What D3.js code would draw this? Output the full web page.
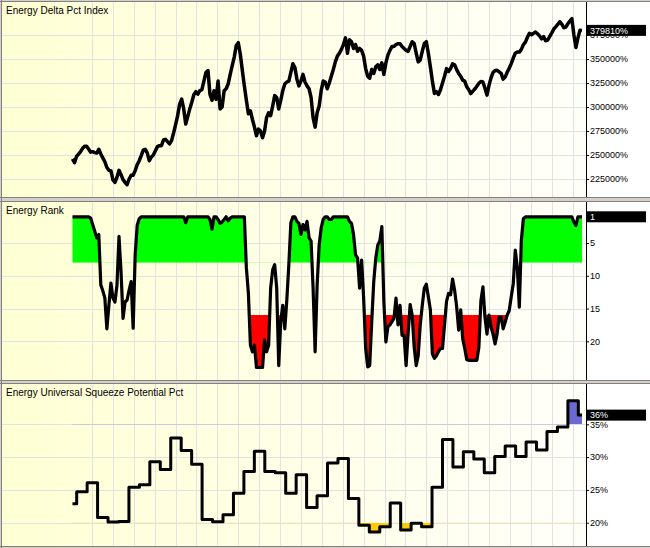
<!DOCTYPE html>
<html><head><meta charset="utf-8">
<script src="https://cdn.jsdelivr.net/npm/d3@7"></script>
<style>
body{margin:0;background:#fff}
svg{display:block}
text{font-family:"Liberation Sans",Arial,sans-serif}
</style>
</head><body>
<svg id="c" width="650" height="548"></svg>
<script>
// ---------------- DATA ----------------
const panelTitles = ["Energy Delta Pct Index", "Energy Rank", "Energy Universal Squeeze Potential Pct"];

// daily Energy Delta Pct Index (in %)
const deltaIndex = [
246000,242000,248500,251000,253500,257000,259000,259000,256000,253000,253500,252500,252000,256000,251000,247000,243000,237000,234000,233700,224000,221500,226700,234000,229500,224300,221500,219000,225000,228800,229000,233700,240000,244000,249300,255000,256000,252000,244000,248000,250000,254500,258700,259700,259700,265600,266300,264000,261500,265000,272900,281600,291000,303000,308300,298000,282300,290000,298000,305000,312800,316000,
313500,317000,318000,327000,336000,338000,313000,307000,317000,308000,327000,298000,300000,317000,319000,324000,334000,343000,352000,364000,367000,355000,338000,322000,307000,293000,296000,287000,279000,270000,277000,275000,268000,275000,289000,294000,291000,301000,312000,310000,298000,307000,317000,324000,326000,327000,336000,345000,341000,329000,322000,327000,334000,326000,322000,319000,310000,289000,279000,294000,301000,317000,327000,326000,319000,
325000,332000,339000,347000,353000,356000,360000,365000,372000,356000,370000,368000,361000,365000,358000,361000,359000,353000,340000,332000,330000,339000,335000,342000,344000,339000,346000,334000,346000,354000,359000,363000,363000,365000,366000,366000,363000,361000,359000,358000,363000,368000,366000,356000,347000,349000,358000,366000,368000,356000,342000,327000,314000,316000,313000,318000,325000,332000,340000,337000,340000,345000,344000,339000,335000,332000,328000,327000,321000,318000,314000,
316500,318700,321700,324700,326600,326000,319500,312400,322500,330300,336000,338100,338200,336700,335000,329000,331200,336400,340300,345200,351000,356000,357300,357200,360000,364800,367600,372600,376700,375300,376700,378100,376300,374100,371000,373300,369000,369600,373300,377000,381000,383500,386000,388800,386400,382600,383200,386700,389500,392000,375000,362000,372000,380000,379810
];

// daily Energy Rank (1 = best)
const rankValues = [
1,1,1,1,1,1,1,1,1,1.2,2.2,3.2,4.2,3.7,11.4,12.3,13.4,18.1,14.5,11.1,13.4,14,11.4,4,9.4,16.5,14,13.7,12.2,10.9,18,6.8,2.3,1.3,1,
1,1,1,1,1,1,1,1,1,1,1,1,1,1,1,1,1,1,1,1,1,1.9,1,1,1,1,1,
1,1,1,1,1,1,1.4,2.9,1,1,1.4,2,1.8,1.4,1,1.6,1.2,1,1,1,1,1,1,1,8.8,12.7,20.6,21.6,20.6,24,24,24,24,19.8,21.6,20.6,11.9,9.1,8.3,11.9,23.7,17,14.5,18.1,13.7,8.3,1.9,1,1,1.7,2,3.7,2.2,3,1.7,4.2,4.7,11.9,21.6,11.4,5.3,2.7,1.4,1,1,
1.4,1.4,1,1,1,1,1,1,1,1,1.7,2,3.7,6.8,7.3,11.9,7.6,13.4,21.1,23.9,23.7,17,10.9,7.3,5.3,4.7,2.5,14,20.1,17.8,17.5,17,16.5,13.4,17.5,14.5,19.1,19.1,23.7,18.8,14.4,16,20.9,23.7,22.2,17.5,14.5,11.9,11.3,13.2,15.2,21.9,22.6,22.2,21.6,21.1,21.1,17.5,13.9,12.7,12.9,10.5,12.2,14.7,18.3,15.2,19.6,21.1,22.8,22.9,22.9,
22.9,22.9,22.9,20.9,13.8,11.7,16.3,18.9,16,17.8,18.9,20.4,18.9,16.3,16.3,18.1,17.1,16,15.3,13.2,11.2,6.1,8.7,14.8,4.6,1.3,1,
1,1,1,1,1,1,1,1,1,1,1,1,1,1,1,1,1,1,1,1,1,1,1,1.8,2.3,1,1,1
];

// weekly Energy Universal Squeeze Potential Pct (first and last weeks partial)
const squeezeWeekly = [22.9,24.7,26.1,20.8,20.1,20.2,25.4,25.8,29.3,28.1,32.9,31.0,28.9,20.5,20.15,21.2,24.5,27.8,30.9,27.8,27.6,24.5,27.3,22.3,24.1,29.1,29.8,23.7,19.6,18.6,19.4,23.0,18.9,19.9,19.4,25.4,32.7,28.5,30.8,29.7,27.6,30.1,31.7,30.1,32.3,31.1,33.9,34.6,38.6,36.4];

const deltaTicks = [225000,250000,275000,300000,325000,350000,375000];
const rankTicks = [5,10,15,20];
const squeezeTicks = [20,25,30,35];
const rankGoodLevel = 8, rankBadLevel = 16;
const squeezeLow = 20, squeezeHigh = 35;

// ---------------- LAYOUT ----------------
const W = 650, H = 548, AX = 586, LEFT = 2;
const svg = d3.select("#c");
const N = deltaIndex.length;
const weekStart = -0.4, weekEnd = 48.35;
const x = d3.scaleLinear().domain([weekStart, weekEnd]).range([72.5, 582]);
const dayWeek = d3.scaleLinear().domain([0, N - 1]).range([weekStart, weekEnd]);
const gridWeeks = d3.range(1.46, 48, 2);

const panels = [
  {top: 2, bottom: 197},
  {top: 202, bottom: 380},
  {top: 384, bottom: 546}
];

// frame
svg.append("rect").attr("width", W).attr("height", H).attr("fill", "#d4d0c8");
const defs = svg.append("defs");
const grad = defs.append("linearGradient").attr("id", "bg").attr("x1", 0).attr("x2", 1).attr("y1", 0).attr("y2", 0);
grad.append("stop").attr("offset", "0%").attr("stop-color", "#ffffd4");
grad.append("stop").attr("offset", "100%").attr("stop-color", "#fffffa");

panels.forEach((p, i) => {
  svg.append("rect").attr("x", LEFT).attr("y", p.top).attr("width", W - LEFT).attr("height", p.bottom - p.top).attr("fill", "#fff");
  svg.append("rect").attr("x", LEFT).attr("y", p.top).attr("width", AX - LEFT).attr("height", p.bottom - p.top).attr("fill", "url(#bg)");
  defs.append("clipPath").attr("id", "clip" + i).append("rect")
    .attr("x", LEFT).attr("y", p.top).attr("width", AX - LEFT).attr("height", p.bottom - p.top);
  svg.append("line").attr("x1", 0).attr("x2", W).attr("y1", p.top - 0.5).attr("y2", p.top - 0.5).attr("stroke", "#808080");
  svg.append("line").attr("x1", 0).attr("x2", W).attr("y1", p.bottom + 0.5).attr("y2", p.bottom + 0.5).attr("stroke", "#808080");
  const g = svg.append("g").attr("clip-path", `url(#clip${i})`);
  g.selectAll("line.vg").data(gridWeeks).join("line")
    .attr("x1", d => Math.round(x(d)) + 0.5).attr("x2", d => Math.round(x(d)) + 0.5)
    .attr("y1", p.top).attr("y2", p.bottom).attr("stroke", "#e2e2e2");
  p.g = g;
});
svg.append("line").attr("x1", LEFT - 0.5).attr("x2", LEFT - 0.5).attr("y1", 0).attr("y2", H).attr("stroke", "#808080");

function horizontalGrid(p, y, ticks) {
  p.g.selectAll(null).data(ticks).join("line")
    .attr("x1", LEFT).attr("x2", AX).attr("y1", d => Math.round(y(d)) + 0.5).attr("y2", d => Math.round(y(d)) + 0.5)
    .attr("stroke", "#e2e2e2");
}
function rightAxis(p, y, ticks, fmt, last) {
  const ax = svg.append("g").attr("transform", `translate(${AX},0)`)
    .call(d3.axisRight(y).tickValues(ticks).tickSize(3).tickPadding(1).tickFormat(fmt));
  ax.select(".domain").remove();
  ax.selectAll("text").attr("font-size", 9).attr("font-family", '"Liberation Sans",Arial,sans-serif').attr("fill", "#000");
  ax.selectAll("line").attr("stroke", "#000");
  svg.append("line").attr("x1", AX + 0.5).attr("x2", AX + 0.5).attr("y1", p.top).attr("y2", p.bottom).attr("stroke", "#000");
  const yl = y(last);
  svg.append("rect").attr("x", AX + 1).attr("y", yl - 5.5).attr("width", W - AX - 5).attr("height", 11).attr("fill", "#000");
  svg.append("text").attr("x", AX + 4).attr("y", yl).attr("dy", "0.35em").attr("font-size", 9).attr("fill", "#fff").text(fmt(last));
}
function title(p, t) {
  svg.append("text").attr("x", 6).attr("y", p.top + 12).attr("font-size", 10).attr("fill", "#000").text(t);
}

// ---------------- PANEL 1: Delta index ----------------
const p1 = panels[0];
const y1 = d3.scaleLinear().domain([225000, 375000]).range([179, 35]);
horizontalGrid(p1, y1, deltaTicks);
const deltaPts = deltaIndex.map((v, i) => ({w: dayWeek(i), v}));
p1.g.append("path").datum(deltaPts)
  .attr("d", d3.line().x(d => x(d.w)).y(d => y1(d.v)))
  .attr("fill", "none").attr("stroke", "#000").attr("stroke-width", 3.5).attr("stroke-linejoin", "round");
rightAxis(p1, y1, deltaTicks, d => d3.format("d")(d) + "%", deltaIndex[N - 1]);
title(p1, panelTitles[0]);

// ---------------- PANEL 2: Rank ----------------
const p2 = panels[1];
const y2 = d3.scaleLinear().domain([1, 20]).range([216.8, 341.3]);
horizontalGrid(p2, y2, rankTicks);
const rankPts = rankValues.map((v, i) => ({w: dayWeek(i), v}));
defs.append("clipPath").attr("id", "clipGood").append("rect")
  .attr("x", LEFT).attr("y", p2.top).attr("width", AX - LEFT).attr("height", y2(rankGoodLevel) - p2.top);
defs.append("clipPath").attr("id", "clipBad").append("rect")
  .attr("x", LEFT).attr("y", y2(rankBadLevel)).attr("width", AX - LEFT).attr("height", p2.bottom - y2(rankBadLevel));
p2.g.append("path").datum(rankPts).attr("clip-path", "url(#clipGood)")
  .attr("d", d3.area().x(d => x(d.w)).y0(y2(rankGoodLevel)).y1(d => y2(d.v)))
  .attr("fill", "#00ff00");
p2.g.append("path").datum(rankPts).attr("clip-path", "url(#clipBad)")
  .attr("d", d3.area().x(d => x(d.w)).y0(y2(rankBadLevel)).y1(d => y2(d.v)))
  .attr("fill", "#ff0000");
p2.g.append("path").datum(rankPts)
  .attr("d", d3.line().x(d => x(d.w)).y(d => y2(d.v)))
  .attr("fill", "none").attr("stroke", "#000").attr("stroke-width", 3.2).attr("stroke-linejoin", "round");
rightAxis(p2, y2, rankTicks, d => d3.format("d")(d), rankValues[N - 1]);
title(p2, panelTitles[1]);

// ---------------- PANEL 3: Squeeze ----------------
const p3 = panels[2];
const y3 = d3.scaleLinear().domain([20, 35]).range([522.7, 424.3]);
horizontalGrid(p3, y3, squeezeTicks);
const sqPts = squeezeWeekly.map((v, i) => ({w: i === 0 ? weekStart : i - 1, v}));
sqPts.push({w: weekEnd, v: squeezeWeekly[squeezeWeekly.length - 1]});
defs.append("clipPath").attr("id", "clipLow").append("rect")
  .attr("x", LEFT).attr("y", y3(squeezeLow)).attr("width", AX - LEFT).attr("height", p3.bottom - y3(squeezeLow));
defs.append("clipPath").attr("id", "clipHigh").append("rect")
  .attr("x", LEFT).attr("y", p3.top).attr("width", AX - LEFT).attr("height", y3(squeezeHigh) - p3.top);
p3.g.append("path").datum(sqPts).attr("clip-path", "url(#clipLow)")
  .attr("d", d3.area().curve(d3.curveStepAfter).x(d => x(d.w)).y0(y3(squeezeLow)).y1(d => y3(d.v)))
  .attr("fill", "#ffcc00");
p3.g.append("path").datum(sqPts).attr("clip-path", "url(#clipHigh)")
  .attr("d", d3.area().curve(d3.curveStepAfter).x(d => x(d.w)).y0(y3(squeezeHigh)).y1(d => y3(d.v)))
  .attr("fill", "#6a6ad2");
p3.g.append("path").datum(sqPts)
  .attr("d", d3.line().curve(d3.curveStepAfter).x(d => x(d.w)).y(d => y3(d.v)))
  .attr("fill", "none").attr("stroke", "#000").attr("stroke-width", 3).attr("stroke-linejoin", "round");
rightAxis(p3, y3, squeezeTicks, d => d3.format("d")(Math.round(d)) + "%", squeezeWeekly[squeezeWeekly.length - 1]);
title(p3, panelTitles[2]);
</script>
</body></html>
